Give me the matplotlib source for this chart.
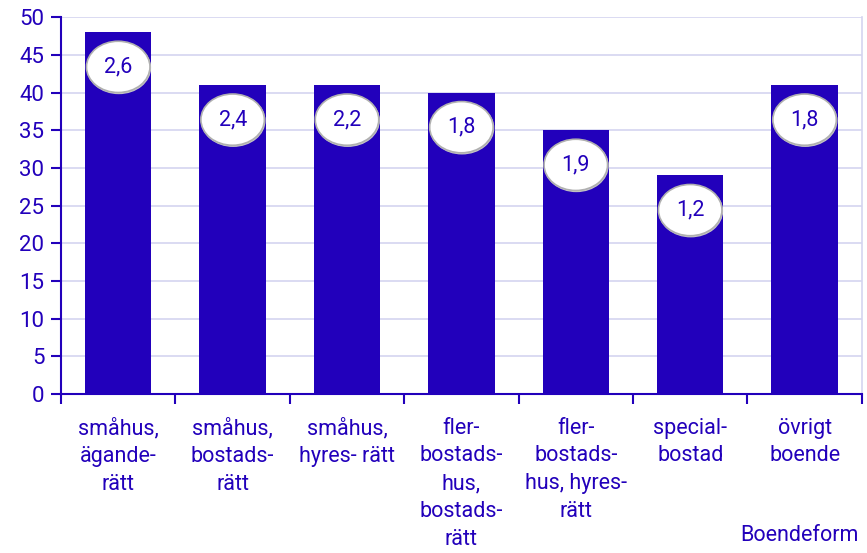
import matplotlib.pyplot as plt
import numpy as np
from matplotlib.patches import Ellipse

# data
categories = ["småhus,\nägande-\nrätt", "småhus,\nbostads-\nrätt", "småhus,\nhyres- rätt",
              "fler-\nbostads-\nhus,\nbostads-\nrätt", "fler-\nbostads-\nhus, hyres-\nrätt",
              "special-\nbostad", "övrigt\nboende"]
values = [48, 41, 41, 40, 35, 29, 41]
labels = ["2,6", "2,4", "2,2", "1,8", "1,9", "1,2", "1,8"]
yticks = list(range(0, 51, 5))

BLUE = "#2200bb"
GRID = "#d4d4f0"

plt.rcParams["font.family"] = ["Roboto", "DejaVu Sans"]

fig = plt.figure(figsize=(8.67, 5.53), dpi=100, facecolor="white")
ax = fig.add_axes([0.0704, 0.2875, 0.9236, 0.6815])

x = np.arange(len(categories))
ax.bar(x, values, width=0.58, color=BLUE, zorder=2)

ax.set_xlim(-0.5, len(categories) - 0.5)
ax.set_ylim(0, 50)
ax.set_yticks(yticks)
ax.yaxis.grid(True, color=GRID, linewidth=1.2, zorder=0)
ax.set_axisbelow(True)

# category labels between boundary ticks
ax.set_xticks(np.arange(len(categories) + 1) - 0.5)
ax.set_xticklabels([])
ax.set_xticks(x, minor=True)
ax.set_xticklabels(categories, minor=True, fontsize=15.5, color=BLUE, linespacing=1.42)
ax.tick_params(axis="x", which="minor", length=0, pad=17)
ax.tick_params(axis="x", which="major", length=7, width=1.5, color=BLUE)
ax.tick_params(axis="y", length=7, width=1.5, color=BLUE, labelcolor=BLUE,
               labelsize=16, pad=5)

for s in ["left", "bottom"]:
    ax.spines[s].set_color(BLUE)
    ax.spines[s].set_linewidth(1.5)
ax.spines["top"].set_visible(False)
ax.spines["right"].set_color(GRID)
ax.spines["right"].set_linewidth(1.2)

# ellipse value labels just below the bar tops
for xi, v, lab in zip(x, values, labels):
    cy = v - 4.6
    ax.add_patch(Ellipse((xi + 0.005, cy - 0.12), 0.565, 7.0, facecolor="#c8c8c8",
                         edgecolor="none", zorder=3))
    ax.add_patch(Ellipse((xi, cy), 0.555, 6.8, facecolor="white",
                         edgecolor="#b0b0b0", linewidth=1.2, zorder=4))
    ax.text(xi, cy, lab, ha="center", va="center", fontsize=15.5, color=BLUE, zorder=5)

fig.text(0.99, 0.012, "Boendeform", ha="right", va="bottom", fontsize=15.5, color=BLUE)

fig.savefig("out.png", dpi=100, facecolor="white")
